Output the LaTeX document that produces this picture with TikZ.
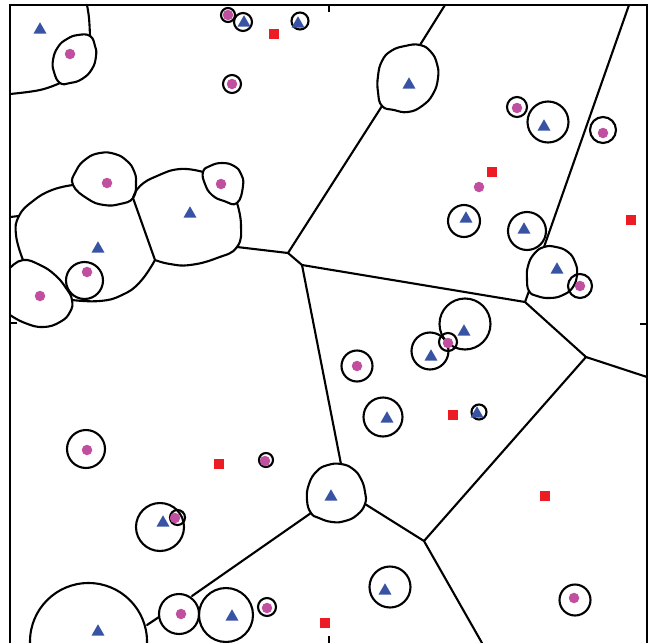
\documentclass[tikz,border=0pt]{standalone}
\usetikzlibrary{shapes.geometric}
\definecolor{triblue}{RGB}{57,83,164}
\definecolor{pinkdot}{RGB}{192,80,159}
\definecolor{redsq}{RGB}{237,28,36}
\tikzset{
  frameline/.style={line width=1.4pt, black},
  cell/.style={line width=2.1pt, black, line join=round, line cap=round},
  tri/.style={regular polygon, regular polygon sides=3, fill=triblue, draw=none, minimum size=15pt, inner sep=0pt, yshift=-1.8pt},
  dotm/.style={circle, fill=pinkdot, draw=none, minimum size=10.5pt, inner sep=0pt},
  sqm/.style={rectangle, fill=redsq, draw=none, minimum size=10.7pt, inner sep=0pt}
}
\begin{document}
\begin{tikzpicture}[x=1pt,y=-1pt]
\useasboundingbox (0,0) rectangle (654,643);
% frame
\draw[frameline] (10,643) -- (10,5) -- (647,5) -- (647,643);
\draw[frameline] (329,5) -- (329,12) (10,323) -- (17,323) (647,324) -- (640,324) (329,643) -- (329,636);

% junction coordinates
\coordinate (j1) at (288,253);
\coordinate (j2) at (302,265);
\coordinate (j3) at (525,302);
\coordinate (j4) at (586,357);
\coordinate (j5) at (424,541);
\coordinate (j6) at (237,247);
\coordinate (j7) at (155,260);
\coordinate (j8) at (133,198);

% top-left
\draw[cell] plot[smooth, tension=0.7] coordinates {(87,5) (89,18) (90,36)};
\draw[cell] plot[smooth cycle, tension=0.8] coordinates {(90,36) (95,46) (96,56) (92,69) (82,79) (70,83) (60,83) (54,72) (53,60) (58,47) (67,39) (78,35)};
\draw[cell] plot[smooth, tension=0.7] coordinates {(60,83) (40,90) (10,94)};

% small top circles
\draw[cell] (228,15) circle (7);
\draw[cell] (243,22) circle (9);
\draw[cell] (300,21) circle (8.5);
\draw[cell] (232,84) circle (9);

% triangle 4 cell
\draw[cell] plot[smooth cycle, tension=0.8] coordinates {(420,45) (431,52) (437,64) (438,78) (433,94) (422,106) (408,112) (394,110) (382,106) (378,92) (378,76) (382,61) (391,51) (405,46)};
\draw[cell] (445,5) -- (420,45);
\draw[cell] (382,106) -- (j1);

% right side
\draw[cell] (629,5) -- (544,247);
\draw[cell] (517,107) circle (10);
\draw[cell] (548,122) circle (20.5);
\draw[cell] (603,130) circle (13);
\draw[cell] (464,221) circle (16);
\draw[cell] (527,231) circle (19);
\draw[cell] plot[smooth cycle, tension=0.8] coordinates {(544,247) (556,247) (568,252) (575,262) (577,274) (573,287) (563,295) (550,298) (537,296) (529,291) (527,279) (528,266) (534,254)};
\draw[cell] (580,286) circle (12);
\draw[cell] (j3) -- (529,291);

% straight edges
\draw[cell] (j1) -- (j2);
\draw[cell] (j2) -- (j3);
\draw[cell] (j2) -- (341,464);
\draw[cell] (j3) -- (j4);
\draw[cell] (j4) -- (647,377);
\draw[cell] (j4) -- (j5);
\draw[cell] (j5) -- (365,504);
\draw[cell] (j5) -- (482,643);
\draw[cell] (j6) -- (j1);

% middle circles
\draw[cell] (465,324) circle (25.5);
\draw[cell] (430,351) circle (18.5);
\draw[cell] (448,342) circle (9);
\draw[cell] (357,366) circle (15.5);
\draw[cell] (383,417) circle (19.5);
\draw[cell] (479,412) circle (7.5);

% triangle 15 cell
\draw[cell] plot[smooth cycle, tension=0.8] coordinates {(341,464) (353,469) (361,479) (365,492) (365,504) (357,515) (345,521) (332,522) (319,518) (311,513) (307,500) (309,484) (317,471) (328,465)};
\draw[cell] (311,513) -- (192,596);

% bottom
\draw[cell] (179,614) circle (20);
\draw[cell] (226,615) circle (27);
\draw[cell] (159,617) -- (147,625);
\draw[cell] (88.5,641.5) circle (58.5);
\draw[cell] (160,527) circle (24);
\draw[cell] (177.5,517.5) circle (7.5);
\draw[cell] (86,449) circle (19);
\draw[cell] (266,460) circle (7);
\draw[cell] (267,607) circle (9);
\draw[cell] (390,587) circle (20.5);
\draw[cell] (575,600) circle (15.5);

% left blob
\draw[cell] plot[smooth cycle, tension=0.8] coordinates {(73,185) (76,171) (86,159) (100,153) (115,154) (127,161) (134,171) (136,183) (133,198) (120,204) (104,205) (88,199)};
\draw[cell] plot[smooth, tension=0.8] coordinates {(73,185) (52,190) (33,201) (19,216) (16,235) (23,260)};
\draw[cell] (10,217) -- (19,216);
\draw[cell] plot[smooth, tension=0.8] coordinates {(10,268) (23,260) (40,265) (55,275) (66,288) (72,300) (70,312) (60,322) (43,327) (25,323) (10,315)};
\draw[cell] (84.5,280.5) circle (18.5);
\draw[cell] plot[smooth, tension=0.8] coordinates {(72,300) (100,301) (122,295) (140,282) (155,260)};
\draw[cell] (j7) -- (j8);
\draw[cell] plot[smooth, tension=0.8] coordinates {(133,198) (140,186) (157,176) (180,169) (203,172)};
\draw[cell] plot[smooth cycle, tension=0.8] coordinates {(203,172) (210,166) (222,163) (234,166) (241,174) (243,186) (237,203) (224,201) (212,195) (205,184)};
\draw[cell] plot[smooth, tension=0.8] coordinates {(237,203) (241,225) (237,247) (217,258) (190,265) (170,264) (155,260)};

% markers: triangles
\node[tri] (t1) at (40,28) {};
\node[tri] (t2) at (244,21) {};
\node[tri] (t3) at (298,22) {};
\node[tri] (t4) at (409,83) {};
\node[tri] (t5) at (544,125) {};
\node[tri] (t6) at (466,217) {};
\node[tri] (t7) at (524,228) {};
\node[tri] (t8) at (557,268) {};
\node[tri] (t9) at (464,330) {};
\node[tri] (t10) at (431,355) {};
\node[tri] (t11) at (387,417) {};
\node[tri] (t12) at (477,412) {};
\node[tri] (t13) at (190,212) {};
\node[tri] (t14) at (98,247) {};
\node[tri] (t15) at (331,495) {};
\node[tri] (t16) at (163,521) {};
\node[tri] (t17) at (232,615) {};
\node[tri] (t18) at (385,589) {};
\node[tri] (t19) at (98,630) {};

% markers: dots
\node[dotm] (p1) at (70,54) {};
\node[dotm] (p2) at (228,15) {};
\node[dotm] (p3) at (232,84) {};
\node[dotm] (p4) at (107,183) {};
\node[dotm] (p5) at (221,184) {};
\node[dotm] (p6) at (517,108) {};
\node[dotm] (p7) at (603,133) {};
\node[dotm] (p8) at (479,187) {};
\node[dotm] (p9) at (87,272) {};
\node[dotm] (p10) at (40,296) {};
\node[dotm] (p11) at (580,286) {};
\node[dotm] (p12) at (448,343) {};
\node[dotm] (p13) at (357,366) {};
\node[dotm] (p14) at (87,450) {};
\node[dotm] (p15) at (265,461) {};
\node[dotm] (p16) at (175,518) {};
\node[dotm] (p17) at (181,614) {};
\node[dotm] (p18) at (267,608) {};
\node[dotm] (p19) at (574,598) {};

% markers: squares
\node[sqm] (s1) at (274,34) {};
\node[sqm] (s2) at (492,172) {};
\node[sqm] (s3) at (631,220) {};
\node[sqm] (s4) at (453,415) {};
\node[sqm] (s5) at (219,464) {};
\node[sqm] (s6) at (545,496) {};
\node[sqm] (s7) at (325,623) {};
\end{tikzpicture}
\end{document}
